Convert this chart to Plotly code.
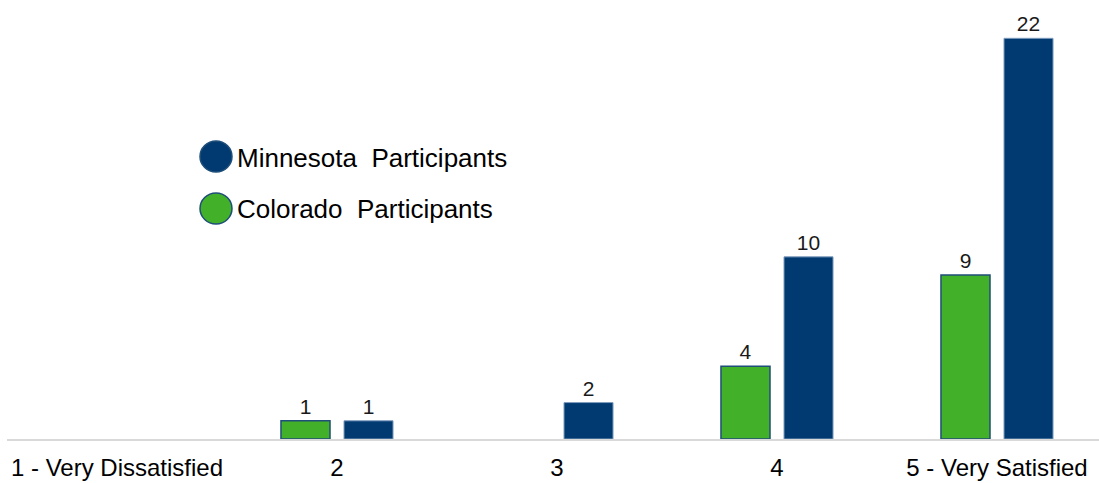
import plotly.graph_objects as go

categories = ["1 - Very Dissatisfied", "2", "3", "4", "5 - Very Satisfied"]
colorado = [0, 1, 0, 4, 9]
minnesota = [0, 1, 2, 10, 22]
legend_names = ["Minnesota Participants", "Colorado Participants"]

GREEN = "#43B02A"
BLUE = "#003A70"
FONT = "Liberation Sans, Arial"

def labels(vals):
    return [str(v) if v else "" for v in vals]

def widths(vals, w):
    return [w if v else 0 for v in vals]

fig = go.Figure()
fig.add_trace(go.Bar(
    x=categories, y=colorado, name=legend_names[1],
    marker=dict(color=GREEN, line=dict(color="#1F4E79", width=widths(colorado, 1.5))),
    text=labels(colorado), textposition="outside", constraintext="none",
    textfont=dict(size=21, color="#1A1A1A", family=FONT),
    cliponaxis=False, showlegend=False,
))
fig.add_trace(go.Bar(
    x=categories, y=minnesota, name=legend_names[0],
    marker=dict(color=BLUE, line=dict(color="#7F9CBF", width=widths(minnesota, 1))),
    text=labels(minnesota), textposition="outside", constraintext="none",
    textfont=dict(size=21, color="#1A1A1A", family=FONT),
    cliponaxis=False, showlegend=False,
))

W, H = 1099, 483
L, R, T, B = 7, 0, 11, 44
pw = W - L - R
ph = H - T - B

def px(x):
    return (x - L) / pw

def py(y):
    return (H - B - y) / ph

shapes = []
annots = []
for (name, col), cy in zip([(legend_names[0], BLUE), (legend_names[1], GREEN)], [156.5, 208.5]):
    shapes.append(dict(type="circle", xref="paper", yref="paper",
                       x0=px(200), x1=px(232), y0=py(cy + 15.5), y1=py(cy - 15.5),
                       fillcolor=col, line=dict(color="#1F4E79", width=1.5)))
    annots.append(dict(xref="paper", yref="paper", x=px(235), y=py(cy + 1),
                       xanchor="left", yanchor="middle", showarrow=False,
                       text=name.replace(" ", "\u00a0 "),
                       font=dict(size=26, color="#000000", family=FONT)))

fig.update_layout(
    width=W, height=H,
    margin=dict(l=L, r=R, t=T, b=B),
    paper_bgcolor="white", plot_bgcolor="white",
    barmode="group", bargap=0.427, bargroupgap=0.222,
    showlegend=False,
    shapes=shapes, annotations=annots,
    xaxis=dict(range=[-0.5, 4.5 - 8 / 220], showline=True, linecolor="#D9D9D9", linewidth=2,
               showgrid=False, zeroline=False, ticks="",
               tickfont=dict(size=24, color="#000000", family=FONT),
               ticklabelstandoff=6),
    yaxis=dict(range=[0, 23.5], visible=False, showgrid=False, zeroline=False),
)

fig.write_html("out.html")
